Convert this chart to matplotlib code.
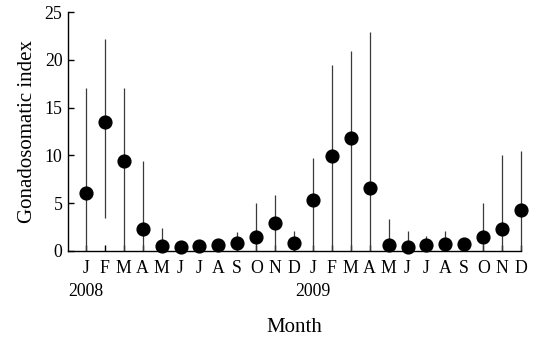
import matplotlib
matplotlib.use("Agg")
import matplotlib.pyplot as plt
import numpy as np

plt.rcParams['font.family'] = ['Liberation Serif', 'DejaVu Serif']

months = ["J", "F", "M", "A", "M", "J", "J", "A", "S", "O", "N", "D",
          "J", "F", "M", "A", "M", "J", "J", "A", "S", "O", "N", "D"]
gsi = [6.0, 13.5, 9.45, 2.25, 0.5, 0.4, 0.45, 0.55, 0.85, 1.4, 2.9, 0.8,
       5.3, 9.9, 11.8, 6.6, 0.55, 0.4, 0.6, 0.7, 0.75, 1.4, 2.3, 4.25]
err_low = [0.0, 3.4, 0.0, 0.0, 0.0, 0.0, 0.0, 0.0, 0.0, 0.0, 0.0, 0.0,
           0.0, 0.0, 0.0, 0.0, 0.0, 0.0, 0.0, 0.0, 0.0, 0.0, 0.0, 0.0]
err_high = [17.1, 22.2, 17.05, 9.4, 2.35, 0.7, 0.75, 1.2, 2.0, 5.0, 5.85, 2.1,
            9.75, 19.5, 20.9, 22.9, 3.35, 2.1, 1.5, 2.05, 1.0, 5.0, 10.05, 10.45]
years = ["2008", "2009"]
year_pos = [0, 12]

x = np.arange(len(months))
y = np.array(gsi)
lo = np.clip(y - np.array(err_low), 0, None)
hi = np.clip(np.array(err_high) - y, 0, None)

fig = plt.figure(figsize=(5.34, 3.37), dpi=100)
ax = fig.add_axes([0.1273, 0.2561, 0.9757 - 0.1273, 0.9635 - 0.2561])

eb = ax.errorbar(x, y, yerr=[lo, hi], fmt='none', ecolor='#3a3a3a', elinewidth=0.9,
                 capsize=0, zorder=2)
for c in eb.lines[2]:
    c.set_clip_on(False)
ax.plot(x, y, 'o', color='black', markersize=9.2, zorder=3, clip_on=False)

ax.set_xlim(-0.95, 23)
ax.set_ylim(0, 25)
ax.set_yticks([0, 5, 10, 15, 20, 25])
ax.set_xticks(x)
ax.set_xticklabels(months)
for s in ['top', 'right']:
    ax.spines[s].set_visible(False)
for s in ['left', 'bottom']:
    ax.spines[s].set_linewidth(1.0)
ax.tick_params(axis='both', direction='in', length=4, width=1.0,
               labelsize=12.8, colors='black')
ax.tick_params(axis='x', pad=7)
ax.tick_params(axis='y', pad=4)

for yr, p in zip(years, year_pos):
    ax.text(p, -0.135, yr, transform=ax.get_xaxis_transform(), ha='center',
            va='top', fontsize=12.8)

ax.set_ylabel("Gonadosomatic index", fontsize=15, labelpad=5)
ax.set_xlabel("Month", fontsize=15, labelpad=29)

fig.savefig("out.png", dpi=100)
